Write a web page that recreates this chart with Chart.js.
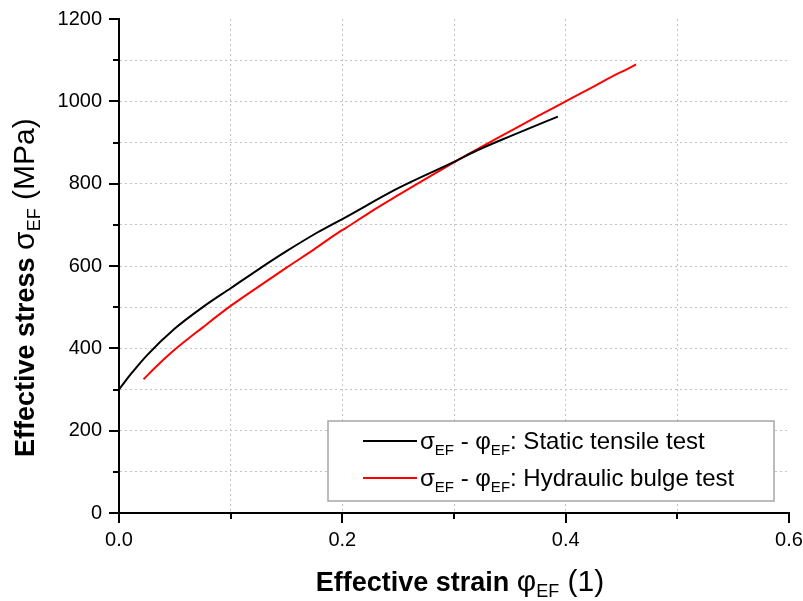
<!DOCTYPE html>
<html>
<head>
<meta charset="utf-8">
<script src="https://cdn.jsdelivr.net/npm/chart.js@4"></script>
<style>
  body { margin: 0; background: #fff; }
  #wrap { width: 803px; height: 601px; }
</style>
</head>
<body>
<div id="wrap"><canvas id="myChart" width="803" height="601"></canvas></div>
<script>
// Data
const strainStatic = [0, 0.005, 0.012, 0.025, 0.05, 0.075, 0.1, 0.125, 0.15, 0.178, 0.182, 0.2, 0.25, 0.3, 0.32, 0.35, 0.393];
const stressStatic = [300, 318, 342, 383, 448, 500, 546, 592, 636, 682, 688, 714, 789, 853, 880, 915, 963];

const strainBulge = [0.022, 0.035, 0.05, 0.075, 0.1, 0.125, 0.15, 0.175, 0.198, 0.203, 0.225, 0.25, 0.275, 0.3, 0.325, 0.35, 0.375, 0.4, 0.425, 0.447, 0.452, 0.463];
const stressBulge = [325, 360, 397, 451, 503, 550, 596, 641, 684, 692, 731, 772, 812, 852, 890, 927, 964, 1000, 1036, 1068, 1074, 1090];

const seriesLabels = ['Static tensile test', 'Hydraulic bulge test'];
const seriesColors = ['#000000', '#ff0000'];

const xMin = 0, xMax = 0.6, xStep = 0.1;
const yMin = 0, yMax = 1200, yStep = 100;

const FONT = "'Liberation Sans', Arial, sans-serif";

function toPoints(xs, ys) {
  return xs.map((x, i) => ({ x: x, y: ys[i] }));
}

// text made of pieces (bold / normal / subscript)
function richWidth(ctx, parts) {
  let w = 0;
  parts.forEach(p => { ctx.font = p.font; w += ctx.measureText(p.t).width; });
  return w;
}
function drawRich(ctx, parts, x, y) {
  let cx = x;
  parts.forEach(p => {
    ctx.font = p.font;
    ctx.fillText(p.t, cx, y + (p.dy || 0));
    cx += ctx.measureText(p.t).width;
  });
}

function legendParts(name) {
  const f = '24px ' + FONT, s = '15px ' + FONT;
  return [
    { t: '\u03C3', font: f }, { t: 'EF', font: s, dy: 6 },
    { t: ' - \u03C6', font: f }, { t: 'EF', font: s, dy: 6 },
    { t: ': ' + name, font: f }
  ];
}

const decor = {
  id: 'decor',
  afterDraw(chart) {
    const ctx = chart.ctx;
    const xs = chart.scales.x, ys = chart.scales.y;
    const area = chart.chartArea;
    ctx.save();
    ctx.strokeStyle = '#000';
    ctx.lineWidth = 2;

    // tick marks: long where there is a label, short otherwise
    xs.ticks.forEach(t => {
      const px = Math.round(xs.getPixelForValue(t.value));
      const len = t.label ? 10 : 6;
      ctx.beginPath();
      ctx.moveTo(px, area.bottom);
      ctx.lineTo(px, area.bottom + len);
      ctx.stroke();
    });
    ys.ticks.forEach(t => {
      const py = Math.round(ys.getPixelForValue(t.value));
      const len = t.label ? 10 : 6;
      ctx.beginPath();
      ctx.moveTo(area.left, py);
      ctx.lineTo(area.left - len, py);
      ctx.stroke();
    });

    ctx.fillStyle = '#000';
    ctx.textBaseline = 'alphabetic';
    ctx.textAlign = 'left';

    const big = 'bold 27px ' + FONT, reg = '30px ' + FONT, sub = '18px ' + FONT;

    // x title
    const xTitle = [
      { t: 'Effective strain ', font: big }, { t: '\u03C6', font: reg },
      { t: 'EF', font: sub, dy: 6 }, { t: ' (1)', font: reg }
    ];
    const xw = richWidth(ctx, xTitle);
    drawRich(ctx, xTitle, 460 - xw / 2, 591);

    // y title
    const yTitle = [
      { t: 'Effective stress ', font: big }, { t: '\u03C3', font: reg },
      { t: 'EF', font: sub, dy: 6 }, { t: ' (MPa)', font: reg }
    ];
    ctx.save();
    ctx.translate(34, 457);
    ctx.rotate(-Math.PI / 2);
    drawRich(ctx, yTitle, 0, 0);
    ctx.restore();

    // legend box
    const lx = 328, ly = 421, lw = 446, lh = 80;
    ctx.fillStyle = '#fff';
    ctx.fillRect(lx, ly, lw, lh);
    ctx.lineWidth = 1.5;
    ctx.strokeStyle = '#a6a6a6';
    ctx.strokeRect(lx, ly, lw, lh);
    const rows = [441, 478];
    chart.data.datasets.forEach((ds, i) => {
      ctx.strokeStyle = ds.borderColor;
      ctx.lineWidth = 2;
      ctx.beginPath();
      ctx.moveTo(363, rows[i]);
      ctx.lineTo(417, rows[i]);
      ctx.stroke();
      ctx.fillStyle = '#000';
      drawRich(ctx, legendParts(ds.label), 420, rows[i] + 8);
    });
    ctx.restore();
  }
};

function gridColor(max) {
  return c => (c.tick && Math.abs(c.tick.value - max) < 1e-6) ? 'rgba(0,0,0,0)' : '#c4c4c4';
}

const ctx = document.getElementById('myChart');

const myChart = new Chart(ctx, {
  type: 'scatter',
  data: {
    datasets: [{
      label: seriesLabels[0],
      data: toPoints(strainStatic, stressStatic),
      showLine: true,
      borderColor: seriesColors[0],
      borderWidth: 2,
      pointRadius: 0,
      cubicInterpolationMode: 'monotone'
    }, {
      label: seriesLabels[1],
      data: toPoints(strainBulge, stressBulge),
      showLine: true,
      borderColor: seriesColors[1],
      borderWidth: 2,
      pointRadius: 0,
      cubicInterpolationMode: 'monotone'
    }]
  },
  options: {
    responsive: false,
    animation: false,
    layout: { padding: { top: 19, right: 14, left: 0, bottom: 0 } },
    plugins: { legend: { display: false }, tooltip: { enabled: false } },
    scales: {
      x: {
        type: 'linear',
        min: xMin, max: xMax,
        // fixed size, no extra room for the end labels
        afterFit: s => { s.height = 88; s.paddingLeft = 0; s.paddingRight = 0; },
        border: { display: true, color: '#000', width: 2, dash: [2, 3] },
        grid: { color: gridColor(xMax), lineWidth: 1, drawTicks: false },
        ticks: {
          stepSize: xStep, autoSkip: false, maxRotation: 0, padding: 15,
          color: '#000', font: { family: FONT, size: 20 },
          callback: v => Math.round(v * 10) % 2 === 0 ? v.toFixed(1) : ''
        }
      },
      y: {
        type: 'linear',
        min: yMin, max: yMax,
        afterFit: s => { s.width = 119; s.paddingTop = 0; s.paddingBottom = 0; },
        border: { display: true, color: '#000', width: 2, dash: [2, 3] },
        grid: { color: gridColor(yMax), lineWidth: 1, drawTicks: false },
        ticks: {
          stepSize: yStep, autoSkip: false, padding: 17,
          color: '#000', font: { family: FONT, size: 20 },
          callback: v => v % 200 === 0 ? String(v) : ''
        }
      }
    }
  },
  plugins: [decor]
});
</script>
</body>
</html>
